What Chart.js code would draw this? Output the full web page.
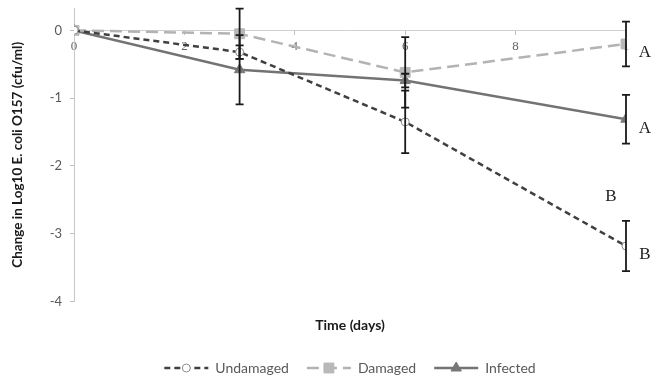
<!DOCTYPE html>
<html>
<head>
<meta charset="utf-8">
<script src="https://cdn.jsdelivr.net/npm/chart.js@4/dist/chart.umd.min.js"></script>
<style>
  html, body { margin: 0; padding: 0; background: #fff; }
  #wrap { width: 660px; height: 378px; }
</style>
</head>
<body>
<div id="wrap"><canvas id="survivalChart"></canvas></div>
<script>
// Sampling days and mean change in log10 counts
const days = [0, 3, 6, 10];
const undamaged = [0, -0.32, -1.35, -3.18];
const damaged = [0, -0.05, -0.62, -0.2];
const infected = [0, -0.58, -0.74, -1.31];

// Error bar half-widths
const undamagedErr = [0, 0.1, 0.46, 0.37];
const damagedErr = [0, 0.37, 0.52, 0.33];
const infectedErr = [0, 0.51, 0.1, 0.36];

// Significance letters at the last day (Undamaged, Damaged, Infected)
const sigLetters = ['B', 'A', 'A'];

const seriesNames = ['Undamaged', 'Damaged', 'Infected'];
const xTicks = [0, 2, 4, 6, 8, 10];
const xTickLabels = ['0', '2', '4', '6', '8', '1'];
const yTicks = [0, -1, -2, -3, -4];

function toPoints(vals) {
  return days.map((d, i) => ({ x: d, y: vals[i] }));
}

// error bars, drawn on top of the markers
const errorBars = {
  id: 'errorBars',
  afterDatasetsDraw(chart) {
    const ctx = chart.ctx;
    const xs = chart.scales.x, ys = chart.scales.y;
    ctx.save();
    ctx.strokeStyle = '#1a1a1a';
    ctx.lineWidth = 1.8;
    chart.data.datasets.forEach(ds => {
      ds.errors.forEach((e, i) => {
        if (!e) return;
        const px = xs.getPixelForValue(days[i]);
        const top = ys.getPixelForValue(ds.data[i].y + e);
        const bot = ys.getPixelForValue(ds.data[i].y - e);
        ctx.beginPath();
        ctx.moveTo(px, top); ctx.lineTo(px, bot);
        ctx.moveTo(px - 4, top); ctx.lineTo(px + 4, top);
        ctx.moveTo(px - 4, bot); ctx.lineTo(px + 4, bot);
        ctx.stroke();
      });
    });
    ctx.restore();
  }
};

// letters beside the day-10 points + markers inside legend samples
const extras = {
  id: 'extras',
  afterDraw(chart) {
    const ctx = chart.ctx;
    const xs = chart.scales.x, ys = chart.scales.y;
    ctx.save();
    ctx.fillStyle = '#222';
    ctx.font = '17px "Liberation Serif"';
    ctx.textAlign = 'center';
    ctx.textBaseline = 'middle';
    const last = days.length - 1;
    chart.data.datasets.forEach((ds, i) => {
      const px = xs.getPixelForValue(days[last]);
      const py = ys.getPixelForValue(ds.data[last].y);
      ctx.fillText(sigLetters[i], px + 19, py + 9);
    });
    // second "B" floating above the undamaged bar
    const ux = xs.getPixelForValue(days[last]);
    const uy = ys.getPixelForValue(undamaged[last]);
    ctx.fillText(sigLetters[0], ux - 15, uy - 49);

    // legend markers
    const boxes = chart.legend.legendHitBoxes || [];
    boxes.forEach((hb, i) => {
      const ds = chart.data.datasets[i];
      const cx = hb.left + 22;
      const cy = hb.top + 7;
      ctx.fillStyle = ds.pointBackgroundColor;
      ctx.strokeStyle = ds.pointBorderColor;
      ctx.lineWidth = 1;
      ctx.setLineDash([]);
      Chart.helpers.drawPoint(ctx, {
        pointStyle: ds.pointStyle, radius: ds.pointRadius, rotation: 0, borderWidth: 1
      }, cx, cy);
    });
    ctx.restore();
  }
};

const ctx = document.getElementById('survivalChart').getContext('2d');
new Chart(ctx, {
  type: 'line',
  data: {
    datasets: [
      {
        label: seriesNames[0],
        data: toPoints(undamaged),
        errors: undamagedErr,
        borderColor: '#404040',
        borderWidth: 2.5,
        borderDash: [6, 4],
        pointStyle: 'circle',
        pointRadius: 4,
        pointBackgroundColor: '#ffffff',
        pointBorderColor: '#8c8c8c',
        pointBorderWidth: 1
      },
      {
        label: seriesNames[1],
        data: toPoints(damaged),
        errors: damagedErr,
        borderColor: '#b3b3b3',
        borderWidth: 2.5,
        borderDash: [12, 6],
        pointStyle: 'rect',
        pointRadius: 7,
        pointBackgroundColor: '#b8b8b8',
        pointBorderColor: '#b8b8b8',
        pointBorderWidth: 1
      },
      {
        label: seriesNames[2],
        data: toPoints(infected),
        errors: infectedErr,
        borderColor: '#737373',
        borderWidth: 2.5,
        pointStyle: 'triangle',
        pointRadius: 6,
        pointBackgroundColor: '#777777',
        pointBorderColor: '#777777',
        pointBorderWidth: 1
      }
    ]
  },
  options: {
    responsive: true,
    maintainAspectRatio: false,
    animation: false,
    layout: { padding: { left: 0, right: 34, top: 7, bottom: -7 } },
    scales: {
      x: {
        type: 'linear',
        position: { y: 0 },
        min: 0,
        max: 10,
        afterBuildTicks: s => { s.ticks = xTicks.map(v => ({ value: v })); },
        ticks: {
          padding: 4,
          color: '#666',
          font: { family: 'Liberation Serif', size: 13 },
          callback: v => xTickLabels[xTicks.indexOf(v)]
        },
        grid: { drawOnChartArea: false, tickLength: 4, color: '#bfbfbf' },
        border: { color: '#d0d0d0', width: 1 }
      },
      y: {
        min: -4,
        max: 0.33,
        afterBuildTicks: s => { s.ticks = yTicks.map(v => ({ value: v })); },
        afterFit: s => { s.width = 74; s.paddingTop = 0; s.paddingBottom = 0; },
        ticks: {
          padding: 8,
          color: '#595959',
          font: { family: 'Lato', size: 13 }
        },
        grid: { drawOnChartArea: false, tickLength: 4, color: '#bfbfbf' },
        border: { color: '#c8c8c8', width: 1 },
        title: {
          display: true,
          text: 'Change in Log10 E. coli O157 (cfu/ml)',
          color: '#1a1a1a',
          font: { family: 'Lato', size: 13.5, weight: 'bold' },
          padding: { top: 10, bottom: 0 }
        }
      }
    },
    plugins: {
      title: {
        display: true,
        position: 'bottom',
        weight: 500,
        fullSize: false,
        text: 'Time (days)',
        color: '#1a1a1a',
        font: { family: 'Lato', size: 14, weight: 'bold' },
        padding: { top: 15.6, bottom: 9 }
      },
      legend: {
        position: 'bottom',
        fullSize: false,
        labels: {
          usePointStyle: true,
          pointStyleWidth: 44,
          boxHeight: 10,
          padding: 18,
          color: '#595959',
          font: { family: 'Lato', size: 14 },
          generateLabels: chart => chart.data.datasets.map((ds, i) => ({
            text: ds.label,
            datasetIndex: i,
            pointStyle: 'line',
            strokeStyle: ds.borderColor,
            fillStyle: ds.borderColor,
            lineWidth: 2.5,
            lineDash: ds.borderDash || [],
            fontColor: '#595959',
            hidden: false
          }))
        }
      },
      tooltip: { enabled: false }
    }
  },
  plugins: [errorBars, extras]
});
</script>
</body>
</html>
